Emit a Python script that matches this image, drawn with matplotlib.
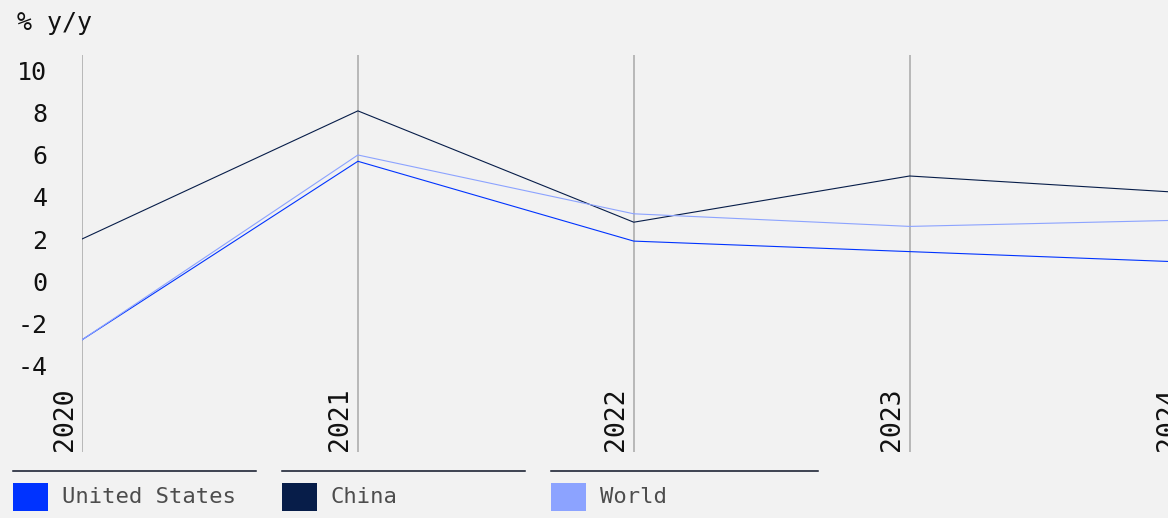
import matplotlib
matplotlib.use("Agg")
import matplotlib.pyplot as plt
from matplotlib.lines import Line2D
from matplotlib.patches import Rectangle

# data (% y/y)
years = [2020, 2021, 2022, 2023, 2024]
us = [-2.8, 5.7, 1.9, 1.4, 0.9]
china = [2.0, 8.1, 2.8, 5.0, 4.2]
world = [-2.8, 6.0, 3.2, 2.6, 2.9]
y_ticks = [-4, -2, 0, 2, 4, 6, 8, 10]

names = ["United States", "China", "World"]
series = [us, china, world]
colors = ["#0033ff", "#071d49", "#8ca3ff"]

W, H = 1168, 518
BG = "#f2f2f2"
MONO = "DejaVu Sans Mono"

plt.rcParams["font.family"] = MONO

fig = plt.figure(figsize=(W / 100, H / 100), dpi=100, facecolor=BG)

# axes runs past the right edge so 2024 is cut off like the original
x0, x1 = 82, 1185.5
y_top, y_bot = 55, 452
ax = fig.add_axes([x0 / W, 1 - y_bot / H, (x1 - x0) / W, (y_bot - y_top) / H])
ax.set_facecolor(BG)
ax.set_xlim(years[0], years[-1])
ax.set_ylim(-8.14, 10.76)

for s in ax.spines.values():
    s.set_visible(False)

for yr in years:
    ax.axvline(yr, color="#a8a8a8", lw=1.1, zorder=1)

for vals, c in zip(series, colors):
    ax.plot(years, vals, color=c, lw=0.8, zorder=3)

ax.set_xticks([])
ax.set_yticks(y_ticks)
ax.set_yticklabels([str(v) for v in y_ticks])
ax.tick_params(axis="y", length=0, pad=25, labelsize=18, labelcolor="#111111")

for yr in years:
    ax.annotate(str(yr), xy=(yr, 0), xycoords=("data", "axes fraction"),
                xytext=(-3.2, 1), textcoords="offset points",
                rotation=90, ha="right", va="bottom",
                fontsize=19, color="#111111", annotation_clip=False)

fig.text(17 / W, 1 - 23 / H, "% y/y", fontsize=18, color="#111111",
         ha="left", va="center")

# legend: rule above each entry, colour square, label
rule_w = [243, 243, 267]
for i, (name, c) in enumerate(zip(names, colors)):
    left = 13 + i * 269
    fig.add_artist(Line2D([left / W, (left + rule_w[i]) / W],
                          [1 - 471 / H, 1 - 471 / H],
                          transform=fig.transFigure, color="#0d1326", lw=1.1))
    fig.add_artist(Rectangle((left / W, 1 - 511 / H), 35 / W, 28 / H,
                             transform=fig.transFigure, facecolor=c,
                             edgecolor="none"))
    fig.text((left + 49) / W, 1 - 497 / H, name, fontsize=16,
             color="#4d4d4d", ha="left", va="center")

fig.savefig("out.png", dpi=100, facecolor=BG)
